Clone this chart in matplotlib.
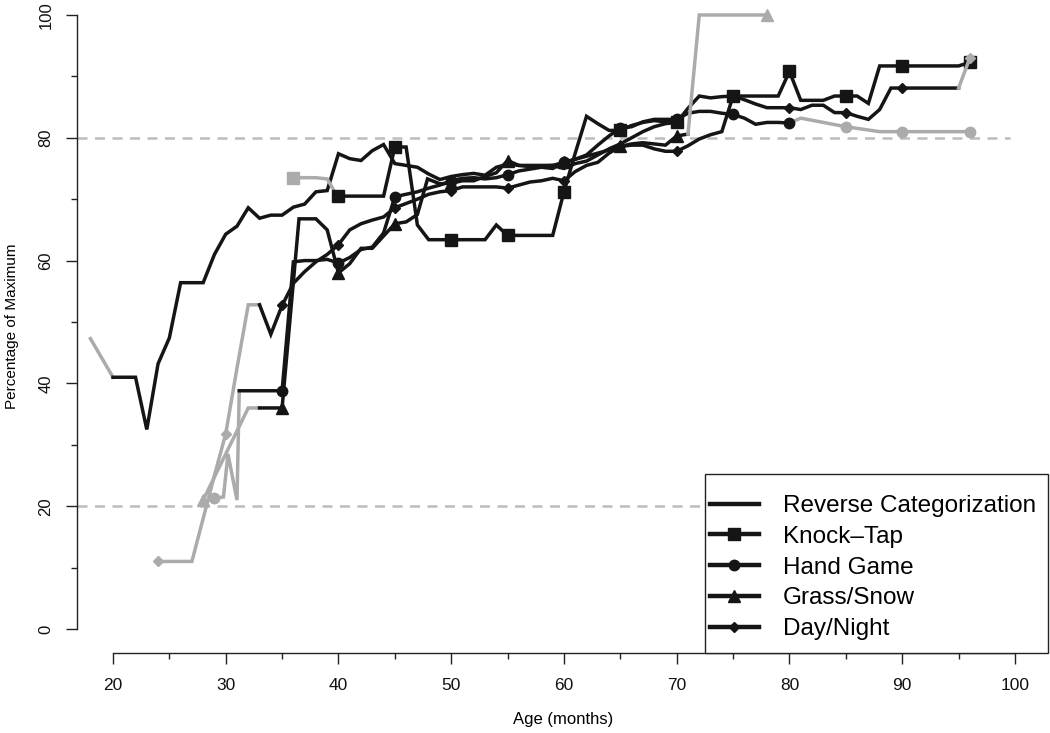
import numpy as np
import matplotlib
matplotlib.use("Agg")
import matplotlib.pyplot as plt
from matplotlib.lines import Line2D
from matplotlib.patches import Rectangle

plt.rcParams['font.family'] = ['Liberation Sans', 'DejaVu Sans']

# ---------------- data (age in months, percentage of maximum) ----------------
rc_age = [18, 20, 21, 22, 23, 24, 25, 26, 27, 28, 29, 30, 31, 32, 33, 34, 35, 36, 37, 38, 39,
          40, 41, 42, 43, 44, 45, 46, 47, 48, 49, 50, 51, 52, 53, 54, 55, 56, 57, 58, 59,
          60, 61, 62, 63, 64, 65, 66, 67, 68, 69, 70]
rc_pct = [47.3, 41, 41, 41, 32.5, 43.2, 47.4, 56.4, 56.4, 56.4, 61, 64.3, 65.6, 68.6, 66.9, 67.4, 67.4, 68.7, 69.2, 71.2, 71.4,
          77.4, 76.6, 76.3, 77.9, 78.9, 75.8, 75.5, 75.2, 74.1, 73.2, 73.7, 74.0, 74.2, 73.9, 75.2, 75.7, 75.5, 75.3, 75.4, 75.5,
          75.0, 75.8, 76.2, 77.2, 78.2, 79.0, 80.0, 81.0, 81.8, 82.3, 82.5]
rc_black = (20, 70)
rc_marks = []

kt_age = [36, 37, 38, 39, 39.7, 40, 41, 42, 43, 44, 45, 46, 47, 48, 49, 50, 51, 52, 53, 54, 55, 56, 57, 58, 59,
          60, 61, 62, 63, 64, 65, 66, 67, 68, 69, 70, 71, 72, 73, 74, 75, 76, 77, 78, 79,
          80, 81, 82, 83, 84, 85, 86, 87, 88, 89, 90, 91, 92, 93, 94, 95, 96]
kt_pct = [73.5, 73.5, 73.5, 73.3, 71.1, 70.5, 70.5, 70.5, 70.5, 70.5, 78.5, 78.5, 65.8, 63.4, 63.4, 63.4, 63.4, 63.4, 63.4, 65.8, 64.1, 64.1, 64.1, 64.1, 64.1,
          71.2, 77.5, 83.5, 82.3, 81.2, 81.2, 82.0, 82.5, 82.8, 82.6, 82.5, 84.8, 86.8, 86.5, 86.7, 86.8, 86.8, 86.8, 86.8, 86.8,
          90.8, 86.1, 86.1, 86.1, 86.8, 86.8, 86.8, 85.6, 91.7, 91.7, 91.7, 91.7, 91.7, 91.7, 91.7, 91.7, 92.3]
kt_black = (39.7, 96)
kt_marks = [36, 40, 45, 50, 55, 60, 65, 70, 75, 80, 85, 90, 96]

hg_age = [29, 29.8, 30.2, 31, 31.2, 32, 33, 34, 35, 36, 37, 38, 39, 40, 41, 42, 43, 44, 45, 46, 47, 48, 49,
          50, 51, 52, 53, 54, 55, 56, 57, 58, 59, 60, 61, 62, 63, 64, 65, 66, 67, 68, 69,
          70, 71, 72, 73, 74, 75, 76, 77, 78, 79, 80, 81, 85, 88, 90, 96]
hg_pct = [21.3, 21.5, 28.5, 21.0, 38.8, 38.8, 38.8, 38.8, 38.8, 59.8, 60.0, 60.0, 60.2, 59.6, 60.5, 61.8, 62.2, 64.5, 70.4, 70.8, 71.2, 71.8, 72.3,
          73.0, 73.4, 73.5, 73.3, 73.5, 74.0, 74.6, 74.9, 75.2, 75.0, 76.0, 76.5, 77.2, 78.8, 80.3, 81.6, 81.8, 82.6, 83.0, 83.0,
          83.0, 84.0, 84.3, 84.3, 84.0, 83.8, 83.2, 82.2, 82.5, 82.5, 82.4, 83.2, 81.8, 81.0, 81.0, 81.0]
hg_black = (31.2, 80)
hg_marks = [29, 35, 40, 45, 50, 55, 60, 65, 70, 75, 80, 85, 90, 96]

gs_age = [28, 32, 33, 34, 35, 36.5, 37, 38, 39, 40, 41, 42, 43, 44, 45, 46, 47, 47.9, 49,
          50, 51, 52, 53, 54, 55, 56, 57, 58, 59, 60, 61, 62, 63, 64, 65, 66, 67, 68, 69,
          70, 71, 72, 78]
gs_pct = [21.0, 36.0, 36.0, 36.0, 36.0, 66.8, 66.8, 66.8, 65.0, 58.0, 59.5, 62.0, 62.0, 64.0, 66.0, 66.3, 67.5, 73.3, 72.5,
          72.6, 73.0, 73.0, 73.7, 74.3, 76.3, 75.5, 75.5, 75.5, 75.5, 76.0, 76.5, 77.0, 77.5, 78.0, 78.6, 79.0, 79.2, 79.0, 78.8,
          80.3, 80.6, 100.0, 100.0]
gs_black = (33, 71)
gs_marks = [28, 35, 40, 45, 50, 55, 60, 65, 70, 78]

dn_age = [24, 25, 26, 27, 28, 29, 30, 31, 32, 33, 34, 35, 36, 37, 38, 39, 40, 41, 42, 43, 44, 45, 46, 47, 48, 49,
          50, 51, 52, 53, 54, 55, 56, 57, 58, 59, 60, 61, 62, 63, 64, 65, 66, 67, 68, 69,
          70, 71, 72, 73, 74, 75, 76, 77, 78, 79, 80, 81, 82, 83, 84, 85, 86, 87, 88, 89,
          90, 91, 92, 93, 94, 95, 96]
dn_pct = [11.0, 11.0, 11.0, 11.0, 18.0, 25.0, 31.8, 42.5, 52.8, 52.8, 48.0, 52.7, 56.3, 58.2, 59.8, 61.0, 62.6, 65.0, 66.0, 66.6, 67.1, 68.6, 69.3, 70.0, 70.8, 71.2,
          71.4, 72.0, 72.0, 72.0, 72.0, 71.8, 72.3, 72.8, 73.0, 73.4, 73.0, 74.5, 75.5, 76.0, 77.5, 78.6, 78.8, 78.8, 78.2, 77.8,
          77.8, 78.7, 79.8, 80.5, 81.0, 86.8, 86.2, 85.5, 84.9, 84.9, 84.9, 84.6, 85.3, 85.3, 84.1, 84.1, 83.5, 83.0, 84.6, 88.1,
          88.1, 88.1, 88.1, 88.1, 88.1, 88.1, 93.0]
dn_black = (33, 95)
dn_marks = [24, 30, 35, 40, 45, 50, 55, 60, 65, 70, 75, 80, 85, 90, 96]

series_names = ["Reverse Categorization", "Knock\u2013Tap", "Hand Game", "Grass/Snow", "Day/Night"]
thresholds = [20, 80]
x_ticks = [20, 30, 40, 50, 60, 70, 80, 90, 100]
y_ticks = [0, 20, 40, 60, 80, 100]

# ---------------- styling ----------------
BLACK = "#151515"
GRAY = "#ababab"
series = [
    (rc_age, rc_pct, rc_black, rc_marks, None, 0),
    (kt_age, kt_pct, kt_black, kt_marks, "s", 8.5),
    (hg_age, hg_pct, hg_black, hg_marks, "o", 7.5),
    (gs_age, gs_pct, gs_black, gs_marks, "^", 8.5),
    (dn_age, dn_pct, dn_black, dn_marks, "D", 5.0),
]

fig = plt.figure(figsize=(10.5, 7.33), dpi=100)
W, H = 1050, 733
ax = fig.add_axes([77 / W, (H - 653) / H, (1048 - 77) / W, 653 / H])
ax.set_xlim(16.81, 102.93)
ax.set_ylim(-3.91, 102.44)

for t in thresholds:
    ax.plot([16.81, 99.6], [t, t], color="#bdbdbd", lw=1.8, dashes=(4, 3), zorder=1)

LW = 2.5
z = 2
for age, pct, (b0, b1), marks, mk, ms in series:
    a = np.asarray(age, dtype=float)
    p = np.asarray(pct, dtype=float)
    pre = a <= b0
    mid = (a >= b0) & (a <= b1)
    post = a >= b1
    if pre.sum() > 1:
        ax.plot(a[pre], p[pre], color=GRAY, lw=LW, solid_joinstyle="miter", zorder=z)
    ax.plot(a[mid], p[mid], color=BLACK, lw=LW, solid_joinstyle="miter", zorder=z)
    if post.sum() > 1:
        ax.plot(a[post], p[post], color=GRAY, lw=LW, solid_joinstyle="miter", zorder=z)
    if mk is not None:
        for m in marks:
            i = int(np.argmin(np.abs(a - m)))
            col = BLACK if b0 <= a[i] <= b1 else GRAY
            ax.plot([a[i]], [p[i]], marker=mk, ms=ms, color=col, mec=col, ls="none", zorder=z + 0.5)
    z += 1

# axes in base-R style
for s in ["top", "right"]:
    ax.spines[s].set_visible(False)
ax.spines["left"].set_bounds(0, 100)
ax.spines["bottom"].set_bounds(20, 100)
for s in ["left", "bottom"]:
    ax.spines[s].set_linewidth(1.0)
    ax.spines[s].set_color("#222222")

ax.set_xticks(x_ticks)
ax.set_xticks(np.arange(25, 100, 10), minor=True)
ax.set_yticks(y_ticks)
ax.set_yticks(np.arange(10, 100, 20), minor=True)
ax.tick_params(axis="both", which="major", direction="out", length=8, width=1.0, color="#222222",
               labelsize=12.5, labelcolor="#111111")
ax.tick_params(axis="y", which="major", labelsize=12)
ax.tick_params(axis="both", which="minor", direction="out", length=4.5, width=1.0, color="#222222")
ax.tick_params(axis="x", which="major", pad=10)
ax.tick_params(axis="y", which="major", pad=9)
for lab in ax.get_yticklabels():
    lab.set_rotation(90)
    lab.set_va("center")

ax.set_xlabel("Age (months)", fontsize=12)
ax.xaxis.label.set_va("center")
ax.xaxis.set_label_coords(0.5005, -0.1026)
ax.set_ylabel("Percentage of Maximum", fontsize=11)
ax.yaxis.label.set_va("center")
ax.yaxis.set_label_coords(-0.067, 0.5)

# legend: white box with black border, entries inside
box = Rectangle(((705 - 77) / 971, 0), 1 - (705 - 77) / 971, (653 - 474) / 653, transform=ax.transAxes,
                facecolor="white", edgecolor="#222222", lw=1.0, zorder=20, clip_on=False)
ax.add_patch(box)
handles = [Line2D([], [], color=BLACK, lw=3.2)]
for _, _, _, _, mk, ms in series[1:]:
    handles.append(Line2D([], [], color=BLACK, lw=3.2, marker=mk, ms=ms))
leg = ax.legend(handles, series_names, loc="upper left", bbox_to_anchor=((710 - 77) / 971, (653 - 495) / 653),
                borderaxespad=0, fontsize=17.5, frameon=False,
                handlelength=2.0, handletextpad=1.0, borderpad=0.0, labelspacing=0.36)
leg.set_zorder(21)

fig.savefig("out.png", dpi=100)
